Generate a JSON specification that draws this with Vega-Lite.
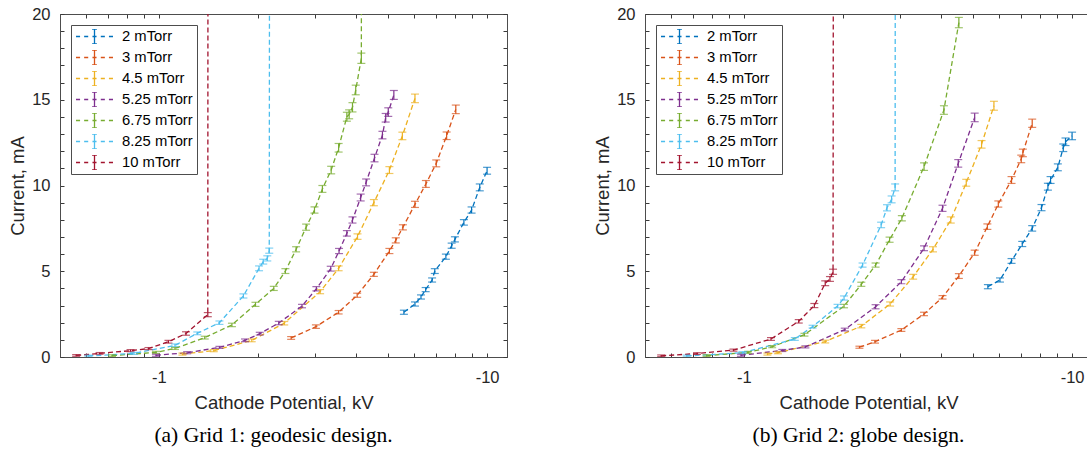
{
  "$schema": "https://vega.github.io/schema/vega-lite/v6.json",
  "padding": {"left": 8, "top": 5, "right": 0, "bottom": 0},
  "spacing": 85,
  "background": "white",
  "datasets": {
    "a": [
      {"p": "2 mTorr", "V": -5.58, "I": 2.61, "e": 0.12},
      {"p": "2 mTorr", "V": -6.03, "I": 3.09, "e": 0.12},
      {"p": "2 mTorr", "V": -6.29, "I": 3.50, "e": 0.12},
      {"p": "2 mTorr", "V": -6.50, "I": 3.93, "e": 0.12},
      {"p": "2 mTorr", "V": -6.80, "I": 4.49, "e": 0.12},
      {"p": "2 mTorr", "V": -6.93, "I": 5.01, "e": 0.14},
      {"p": "2 mTorr", "V": -7.49, "I": 5.85, "e": 0.15},
      {"p": "2 mTorr", "V": -7.80, "I": 6.49, "e": 0.15},
      {"p": "2 mTorr", "V": -7.98, "I": 6.86, "e": 0.15},
      {"p": "2 mTorr", "V": -8.50, "I": 7.85, "e": 0.16},
      {"p": "2 mTorr", "V": -8.97, "I": 8.57, "e": 0.18},
      {"p": "2 mTorr", "V": -9.50, "I": 9.89, "e": 0.2},
      {"p": "2 mTorr", "V": -10.0, "I": 10.86, "e": 0.2},
      {"p": "3 mTorr", "V": -2.53, "I": 1.11, "e": 0.08},
      {"p": "3 mTorr", "V": -3.01, "I": 1.77, "e": 0.1},
      {"p": "3 mTorr", "V": -3.53, "I": 2.61, "e": 0.1},
      {"p": "3 mTorr", "V": -4.02, "I": 3.60, "e": 0.12},
      {"p": "3 mTorr", "V": -4.52, "I": 4.82, "e": 0.12},
      {"p": "3 mTorr", "V": -5.04, "I": 6.18, "e": 0.15},
      {"p": "3 mTorr", "V": -5.27, "I": 6.80, "e": 0.15},
      {"p": "3 mTorr", "V": -5.54, "I": 7.56, "e": 0.15},
      {"p": "3 mTorr", "V": -6.03, "I": 8.90, "e": 0.18},
      {"p": "3 mTorr", "V": -6.51, "I": 10.09, "e": 0.2},
      {"p": "3 mTorr", "V": -7.00, "I": 11.29, "e": 0.2},
      {"p": "3 mTorr", "V": -7.53, "I": 12.90, "e": 0.22},
      {"p": "3 mTorr", "V": -8.03, "I": 14.44, "e": 0.25},
      {"p": "4.5 mTorr", "V": -1.18, "I": 0.17, "e": 0.06},
      {"p": "4.5 mTorr", "V": -1.47, "I": 0.37, "e": 0.06},
      {"p": "4.5 mTorr", "V": -1.92, "I": 0.97, "e": 0.08},
      {"p": "4.5 mTorr", "V": -2.41, "I": 1.97, "e": 0.1},
      {"p": "4.5 mTorr", "V": -3.10, "I": 3.81, "e": 0.12},
      {"p": "4.5 mTorr", "V": -3.53, "I": 5.17, "e": 0.14},
      {"p": "4.5 mTorr", "V": -4.03, "I": 7.02, "e": 0.16},
      {"p": "4.5 mTorr", "V": -4.52, "I": 9.00, "e": 0.18},
      {"p": "4.5 mTorr", "V": -5.04, "I": 10.90, "e": 0.2},
      {"p": "4.5 mTorr", "V": -5.52, "I": 12.89, "e": 0.22},
      {"p": "4.5 mTorr", "V": -6.03, "I": 15.08, "e": 0.25},
      {"p": "5.25 mTorr", "V": -0.98, "I": 0.10, "e": 0.06},
      {"p": "5.25 mTorr", "V": -1.22, "I": 0.25, "e": 0.06},
      {"p": "5.25 mTorr", "V": -1.53, "I": 0.56, "e": 0.06},
      {"p": "5.25 mTorr", "V": -1.83, "I": 0.97, "e": 0.08},
      {"p": "5.25 mTorr", "V": -2.03, "I": 1.36, "e": 0.08},
      {"p": "5.25 mTorr", "V": -2.32, "I": 1.98, "e": 0.1},
      {"p": "5.25 mTorr", "V": -2.73, "I": 2.97, "e": 0.1},
      {"p": "5.25 mTorr", "V": -3.02, "I": 3.98, "e": 0.12},
      {"p": "5.25 mTorr", "V": -3.34, "I": 5.15, "e": 0.14},
      {"p": "5.25 mTorr", "V": -3.54, "I": 6.18, "e": 0.15},
      {"p": "5.25 mTorr", "V": -3.74, "I": 7.21, "e": 0.16},
      {"p": "5.25 mTorr", "V": -3.89, "I": 7.99, "e": 0.18},
      {"p": "5.25 mTorr", "V": -4.12, "I": 9.30, "e": 0.2},
      {"p": "5.25 mTorr", "V": -4.28, "I": 10.18, "e": 0.2},
      {"p": "5.25 mTorr", "V": -4.54, "I": 11.60, "e": 0.22},
      {"p": "5.25 mTorr", "V": -4.80, "I": 12.94, "e": 0.22},
      {"p": "5.25 mTorr", "V": -4.91, "I": 13.95, "e": 0.25},
      {"p": "5.25 mTorr", "V": -5.00, "I": 14.28, "e": 0.25},
      {"p": "5.25 mTorr", "V": -5.20, "I": 15.28, "e": 0.26},
      {"p": "6.75 mTorr", "V": -0.72, "I": 0.08, "e": 0.05},
      {"p": "6.75 mTorr", "V": -0.98, "I": 0.27, "e": 0.06},
      {"p": "6.75 mTorr", "V": -1.12, "I": 0.50, "e": 0.06},
      {"p": "6.75 mTorr", "V": -1.38, "I": 1.13, "e": 0.08},
      {"p": "6.75 mTorr", "V": -1.67, "I": 1.87, "e": 0.1},
      {"p": "6.75 mTorr", "V": -1.97, "I": 3.07, "e": 0.12},
      {"p": "6.75 mTorr", "V": -2.24, "I": 4.00, "e": 0.12},
      {"p": "6.75 mTorr", "V": -2.43, "I": 5.01, "e": 0.14},
      {"p": "6.75 mTorr", "V": -2.62, "I": 6.28, "e": 0.15},
      {"p": "6.75 mTorr", "V": -2.81, "I": 7.57, "e": 0.18},
      {"p": "6.75 mTorr", "V": -2.98, "I": 8.57, "e": 0.18},
      {"p": "6.75 mTorr", "V": -3.15, "I": 9.80, "e": 0.2},
      {"p": "6.75 mTorr", "V": -3.35, "I": 10.90, "e": 0.22},
      {"p": "6.75 mTorr", "V": -3.53, "I": 12.20, "e": 0.25},
      {"p": "6.75 mTorr", "V": -3.74, "I": 14.01, "e": 0.26},
      {"p": "6.75 mTorr", "V": -3.80, "I": 14.15, "e": 0.26},
      {"p": "6.75 mTorr", "V": -3.89, "I": 14.56, "e": 0.27},
      {"p": "6.75 mTorr", "V": -3.98, "I": 15.57, "e": 0.28},
      {"p": "6.75 mTorr", "V": -4.14, "I": 17.42, "e": 0.3},
      {"p": "6.75 mTorr", "V": -4.145, "I": 30},
      {"p": "8.25 mTorr", "V": -0.61, "I": 0.06, "e": 0.05},
      {"p": "8.25 mTorr", "V": -0.84, "I": 0.21, "e": 0.06},
      {"p": "8.25 mTorr", "V": -1.12, "I": 0.68, "e": 0.08},
      {"p": "8.25 mTorr", "V": -1.31, "I": 1.38, "e": 0.08},
      {"p": "8.25 mTorr", "V": -1.53, "I": 2.00, "e": 0.1},
      {"p": "8.25 mTorr", "V": -1.81, "I": 3.56, "e": 0.12},
      {"p": "8.25 mTorr", "V": -2.02, "I": 5.17, "e": 0.14},
      {"p": "8.25 mTorr", "V": -2.08, "I": 5.56, "e": 0.14},
      {"p": "8.25 mTorr", "V": -2.14, "I": 5.75, "e": 0.15},
      {"p": "8.25 mTorr", "V": -2.17, "I": 6.20, "e": 0.15},
      {"p": "8.25 mTorr", "V": -2.175, "I": 30},
      {"p": "10 mTorr", "V": -0.56, "I": 0.09, "e": 0.05},
      {"p": "10 mTorr", "V": -0.66, "I": 0.21, "e": 0.05},
      {"p": "10 mTorr", "V": -0.82, "I": 0.37, "e": 0.06},
      {"p": "10 mTorr", "V": -0.93, "I": 0.49, "e": 0.06},
      {"p": "10 mTorr", "V": -1.07, "I": 0.89, "e": 0.08},
      {"p": "10 mTorr", "V": -1.21, "I": 1.37, "e": 0.1},
      {"p": "10 mTorr", "V": -1.41, "I": 2.47, "e": 0.12},
      {"p": "10 mTorr", "V": -1.412, "I": 30}
    ],
    "b": [
      {"p": "2 mTorr", "V": -5.54, "I": 4.10, "e": 0.12},
      {"p": "2 mTorr", "V": -6.03, "I": 4.49, "e": 0.12},
      {"p": "2 mTorr", "V": -6.54, "I": 5.60, "e": 0.14},
      {"p": "2 mTorr", "V": -7.05, "I": 6.59, "e": 0.15},
      {"p": "2 mTorr", "V": -7.56, "I": 7.50, "e": 0.16},
      {"p": "2 mTorr", "V": -8.07, "I": 8.71, "e": 0.18},
      {"p": "2 mTorr", "V": -8.44, "I": 9.93, "e": 0.2},
      {"p": "2 mTorr", "V": -8.60, "I": 10.32, "e": 0.2},
      {"p": "2 mTorr", "V": -9.05, "I": 11.06, "e": 0.2},
      {"p": "2 mTorr", "V": -9.40, "I": 12.20, "e": 0.22},
      {"p": "2 mTorr", "V": -9.55, "I": 12.55, "e": 0.22},
      {"p": "2 mTorr", "V": -10.0, "I": 12.89, "e": 0.22},
      {"p": "3 mTorr", "V": -2.25, "I": 0.57, "e": 0.06},
      {"p": "3 mTorr", "V": -2.51, "I": 0.89, "e": 0.08},
      {"p": "3 mTorr", "V": -3.02, "I": 1.57, "e": 0.08},
      {"p": "3 mTorr", "V": -3.54, "I": 2.51, "e": 0.1},
      {"p": "3 mTorr", "V": -4.03, "I": 3.48, "e": 0.1},
      {"p": "3 mTorr", "V": -4.52, "I": 4.72, "e": 0.14},
      {"p": "3 mTorr", "V": -5.05, "I": 6.08, "e": 0.15},
      {"p": "3 mTorr", "V": -5.52, "I": 7.60, "e": 0.16},
      {"p": "3 mTorr", "V": -5.96, "I": 8.92, "e": 0.18},
      {"p": "3 mTorr", "V": -6.54, "I": 10.32, "e": 0.2},
      {"p": "3 mTorr", "V": -7.00, "I": 11.55, "e": 0.22},
      {"p": "3 mTorr", "V": -7.08, "I": 11.90, "e": 0.22},
      {"p": "3 mTorr", "V": -7.56, "I": 13.63, "e": 0.24},
      {"p": "4.5 mTorr", "V": -1.18, "I": 0.17, "e": 0.06},
      {"p": "4.5 mTorr", "V": -1.27, "I": 0.25, "e": 0.06},
      {"p": "4.5 mTorr", "V": -1.77, "I": 0.90, "e": 0.08},
      {"p": "4.5 mTorr", "V": -2.28, "I": 1.80, "e": 0.1},
      {"p": "4.5 mTorr", "V": -2.79, "I": 3.09, "e": 0.12},
      {"p": "4.5 mTorr", "V": -3.28, "I": 4.68, "e": 0.14},
      {"p": "4.5 mTorr", "V": -3.77, "I": 6.28, "e": 0.15},
      {"p": "4.5 mTorr", "V": -4.27, "I": 7.99, "e": 0.18},
      {"p": "4.5 mTorr", "V": -4.76, "I": 10.16, "e": 0.2},
      {"p": "4.5 mTorr", "V": -5.30, "I": 12.40, "e": 0.22},
      {"p": "4.5 mTorr", "V": -5.78, "I": 14.65, "e": 0.26},
      {"p": "5.25 mTorr", "V": -0.98, "I": 0.10, "e": 0.06},
      {"p": "5.25 mTorr", "V": -1.31, "I": 0.38, "e": 0.06},
      {"p": "5.25 mTorr", "V": -1.54, "I": 0.59, "e": 0.06},
      {"p": "5.25 mTorr", "V": -2.03, "I": 1.60, "e": 0.08},
      {"p": "5.25 mTorr", "V": -2.52, "I": 2.93, "e": 0.12},
      {"p": "5.25 mTorr", "V": -3.02, "I": 4.39, "e": 0.12},
      {"p": "5.25 mTorr", "V": -3.54, "I": 6.34, "e": 0.14},
      {"p": "5.25 mTorr", "V": -4.03, "I": 8.67, "e": 0.18},
      {"p": "5.25 mTorr", "V": -4.50, "I": 11.29, "e": 0.22},
      {"p": "5.25 mTorr", "V": -5.05, "I": 13.97, "e": 0.25},
      {"p": "6.75 mTorr", "V": -0.77, "I": 0.08, "e": 0.05},
      {"p": "6.75 mTorr", "V": -1.03, "I": 0.27, "e": 0.06},
      {"p": "6.75 mTorr", "V": -1.22, "I": 0.60, "e": 0.06},
      {"p": "6.75 mTorr", "V": -1.53, "I": 1.30, "e": 0.08},
      {"p": "6.75 mTorr", "V": -2.02, "I": 2.97, "e": 0.1},
      {"p": "6.75 mTorr", "V": -2.28, "I": 4.24, "e": 0.12},
      {"p": "6.75 mTorr", "V": -2.52, "I": 5.36, "e": 0.12},
      {"p": "6.75 mTorr", "V": -2.78, "I": 6.84, "e": 0.15},
      {"p": "6.75 mTorr", "V": -3.03, "I": 8.09, "e": 0.15},
      {"p": "6.75 mTorr", "V": -3.54, "I": 11.10, "e": 0.22},
      {"p": "6.75 mTorr", "V": -4.07, "I": 14.40, "e": 0.25},
      {"p": "6.75 mTorr", "V": -4.52, "I": 19.50, "e": 0.3},
      {"p": "8.25 mTorr", "V": -0.67, "I": 0.06, "e": 0.05},
      {"p": "8.25 mTorr", "V": -0.99, "I": 0.25, "e": 0.06},
      {"p": "8.25 mTorr", "V": -1.43, "I": 1.05, "e": 0.08},
      {"p": "8.25 mTorr", "V": -1.62, "I": 1.77, "e": 0.08},
      {"p": "8.25 mTorr", "V": -1.93, "I": 2.97, "e": 0.1},
      {"p": "8.25 mTorr", "V": -2.02, "I": 3.44, "e": 0.12},
      {"p": "8.25 mTorr", "V": -2.30, "I": 5.36, "e": 0.12},
      {"p": "8.25 mTorr", "V": -2.62, "I": 7.70, "e": 0.16},
      {"p": "8.25 mTorr", "V": -2.73, "I": 8.70, "e": 0.18},
      {"p": "8.25 mTorr", "V": -2.82, "I": 9.19, "e": 0.2},
      {"p": "8.25 mTorr", "V": -2.89, "I": 9.89, "e": 0.2},
      {"p": "8.25 mTorr", "V": -2.895, "I": 30},
      {"p": "10 mTorr", "V": -0.56, "I": 0.07, "e": 0.05},
      {"p": "10 mTorr", "V": -0.72, "I": 0.20, "e": 0.05},
      {"p": "10 mTorr", "V": -0.93, "I": 0.40, "e": 0.06},
      {"p": "10 mTorr", "V": -1.21, "I": 1.05, "e": 0.08},
      {"p": "10 mTorr", "V": -1.47, "I": 2.08, "e": 0.1},
      {"p": "10 mTorr", "V": -1.64, "I": 3.00, "e": 0.12},
      {"p": "10 mTorr", "V": -1.77, "I": 4.30, "e": 0.14},
      {"p": "10 mTorr", "V": -1.83, "I": 4.55, "e": 0.14},
      {"p": "10 mTorr", "V": -1.87, "I": 4.97, "e": 0.15},
      {"p": "10 mTorr", "V": -1.875, "I": 30}
    ]
  },
  "config": {
    "view": {"stroke": "#4d4d4d", "strokeWidth": 1},
    "axis": {
      "grid": false,
      "domain": true,
      "ticks": true,
      "domainColor": "#4d4d4d",
      "tickColor": "#3a3a3a",
      "domainWidth": 1,
      "tickWidth": 1,
      "tickSize": -4,
      "labelColor": "#262626",
      "titleColor": "#262626",
      "labelFont": "Liberation Sans",
      "titleFont": "Liberation Sans",
      "labelFontSize": 16.5,
      "titleFontSize": 18.5,
      "titleFontWeight": "normal"
    },
    "legend": {
      "labelFont": "Liberation Sans",
      "labelFontSize": 14.8,
      "labelColor": "#000000"
    },
    "title": {"font": "Liberation Serif", "fontSize": 21.5, "fontWeight": "normal", "color": "#000000"}
  },
  "resolve": {"legend": {"color": "independent"}},
  "hconcat": [
    {
      "width": 447,
      "height": 343,
      "title": {"text": "(a)  Grid 1: geodesic design.", "orient": "bottom", "anchor": "middle", "frame": "group", "offset": 13, "dx": -10},
      "data": {"name": "a"},
      "layer": [
        {
          "mark": {"type": "line", "strokeDash": [5, 3], "strokeWidth": 1.3, "clip": true},
          "encoding": {
            "x": {"field": "V", "type": "quantitative", "scale": {"type": "log", "domain": [-0.5, -11.5]},
              "axis": {"orient": "bottom", "title": "Cathode Potential, kV", "values": [-0.6, -0.7, -0.8, -0.9, -1, -2, -3, -4, -5, -6, -7, -8, -9, -10],
                "labelExpr": "datum.value == -1 ? '-1' : (datum.value == -10 ? '-10' : '')", "labelPadding": 16, "titlePadding": 8, "labelFlush": false}},
            "y": {"field": "I", "type": "quantitative", "scale": {"domain": [0, 20]},
              "axis": {"orient": "left", "title": "Current, mA", "values": [0,1,2,3,4,5,6,7,8,9,10,11,12,13,14,15,16,17,18,19,20],
                "labelExpr": "datum.value % 5 == 0 ? datum.label : ''", "labelPadding": 14, "titlePadding": 4, "labelFlush": false}},
            "color": {"field": "p", "type": "nominal",
              "scale": {"domain": ["2 mTorr", "3 mTorr", "4.5 mTorr", "5.25 mTorr", "6.75 mTorr", "8.25 mTorr", "10 mTorr"],
                "range": ["#0072BD", "#D95319", "#EDB120", "#7E2F8E", "#77AC30", "#4DBEEE", "#A2142F"]},
              "legend": {"title": null, "orient": "top-left", "offset": 11,
                "symbolType": "M-1,0H-0.78M-0.56,0H-0.34M-0.11,0H0.11M0.34,0H0.56M0.78,0H1M0,-0.4V0.4M-0.13,-0.4H0.13M-0.13,0.4H0.13",
                "symbolSize": 1369, "symbolStrokeWidth": 1.3, "labelOffset": 8, "padding": 4, "rowPadding": 5, "clipHeight": 15,
                "fillColor": "white", "strokeColor": "#4d4d4d"}}
          }
        },
        {
          "transform": [{"filter": "datum.e > 0"}],
          "mark": {"type": "errorbar", "ticks": {"size": 8}, "thickness": 1.2, "clip": true},
          "encoding": {
            "x": {"field": "V", "type": "quantitative", "scale": {"type": "log", "domain": [-0.5, -11.5]},
              "axis": {"orient": "top", "title": null, "labels": false, "values": [-0.6, -0.7, -0.8, -0.9, -1, -2, -3, -4, -5, -6, -7, -8, -9, -10]}},
            "y": {"field": "I", "type": "quantitative", "scale": {"domain": [0, 20]},
              "axis": {"orient": "right", "title": null, "labels": false, "values": [0,1,2,3,4,5,6,7,8,9,10,11,12,13,14,15,16,17,18,19,20]}},
            "yError": {"field": "e"},
            "color": {"field": "p", "type": "nominal",
              "scale": {"domain": ["2 mTorr", "3 mTorr", "4.5 mTorr", "5.25 mTorr", "6.75 mTorr", "8.25 mTorr", "10 mTorr"],
                "range": ["#0072BD", "#D95319", "#EDB120", "#7E2F8E", "#77AC30", "#4DBEEE", "#A2142F"]},
              "legend": null}
          }
        }
      ],
      "resolve": {"axis": {"x": "independent", "y": "independent"}}
    },
    {
      "width": 447,
      "height": 343,
      "title": {"text": "(b)  Grid 2: globe design.", "orient": "bottom", "anchor": "middle", "frame": "group", "offset": 13, "dx": -10},
      "data": {"name": "b"},
      "layer": [
        {
          "mark": {"type": "line", "strokeDash": [5, 3], "strokeWidth": 1.3, "clip": true},
          "encoding": {
            "x": {"field": "V", "type": "quantitative", "scale": {"type": "log", "domain": [-0.5, -11.5]},
              "axis": {"orient": "bottom", "title": "Cathode Potential, kV", "values": [-0.6, -0.7, -0.8, -0.9, -1, -2, -3, -4, -5, -6, -7, -8, -9, -10],
                "labelExpr": "datum.value == -1 ? '-1' : (datum.value == -10 ? '-10' : '')", "labelPadding": 16, "titlePadding": 8, "labelFlush": false}},
            "y": {"field": "I", "type": "quantitative", "scale": {"domain": [0, 20]},
              "axis": {"orient": "left", "title": "Current, mA", "values": [0,1,2,3,4,5,6,7,8,9,10,11,12,13,14,15,16,17,18,19,20],
                "labelExpr": "datum.value % 5 == 0 ? datum.label : ''", "labelPadding": 14, "titlePadding": 4, "labelFlush": false}},
            "color": {"field": "p", "type": "nominal",
              "scale": {"domain": ["2 mTorr", "3 mTorr", "4.5 mTorr", "5.25 mTorr", "6.75 mTorr", "8.25 mTorr", "10 mTorr"],
                "range": ["#0072BD", "#D95319", "#EDB120", "#7E2F8E", "#77AC30", "#4DBEEE", "#A2142F"]},
              "legend": {"title": null, "orient": "top-left", "offset": 11,
                "symbolType": "M-1,0H-0.78M-0.56,0H-0.34M-0.11,0H0.11M0.34,0H0.56M0.78,0H1M0,-0.4V0.4M-0.13,-0.4H0.13M-0.13,0.4H0.13",
                "symbolSize": 1369, "symbolStrokeWidth": 1.3, "labelOffset": 8, "padding": 4, "rowPadding": 5, "clipHeight": 15,
                "fillColor": "white", "strokeColor": "#4d4d4d"}}
          }
        },
        {
          "transform": [{"filter": "datum.e > 0"}],
          "mark": {"type": "errorbar", "ticks": {"size": 8}, "thickness": 1.2, "clip": true},
          "encoding": {
            "x": {"field": "V", "type": "quantitative", "scale": {"type": "log", "domain": [-0.5, -11.5]},
              "axis": {"orient": "top", "title": null, "labels": false, "values": [-0.6, -0.7, -0.8, -0.9, -1, -2, -3, -4, -5, -6, -7, -8, -9, -10]}},
            "y": {"field": "I", "type": "quantitative", "scale": {"domain": [0, 20]},
              "axis": {"orient": "right", "title": null, "labels": false, "values": [0,1,2,3,4,5,6,7,8,9,10,11,12,13,14,15,16,17,18,19,20]}},
            "yError": {"field": "e"},
            "color": {"field": "p", "type": "nominal",
              "scale": {"domain": ["2 mTorr", "3 mTorr", "4.5 mTorr", "5.25 mTorr", "6.75 mTorr", "8.25 mTorr", "10 mTorr"],
                "range": ["#0072BD", "#D95319", "#EDB120", "#7E2F8E", "#77AC30", "#4DBEEE", "#A2142F"]},
              "legend": null}
          }
        }
      ],
      "resolve": {"axis": {"x": "independent", "y": "independent"}}
    }
  ]
}
